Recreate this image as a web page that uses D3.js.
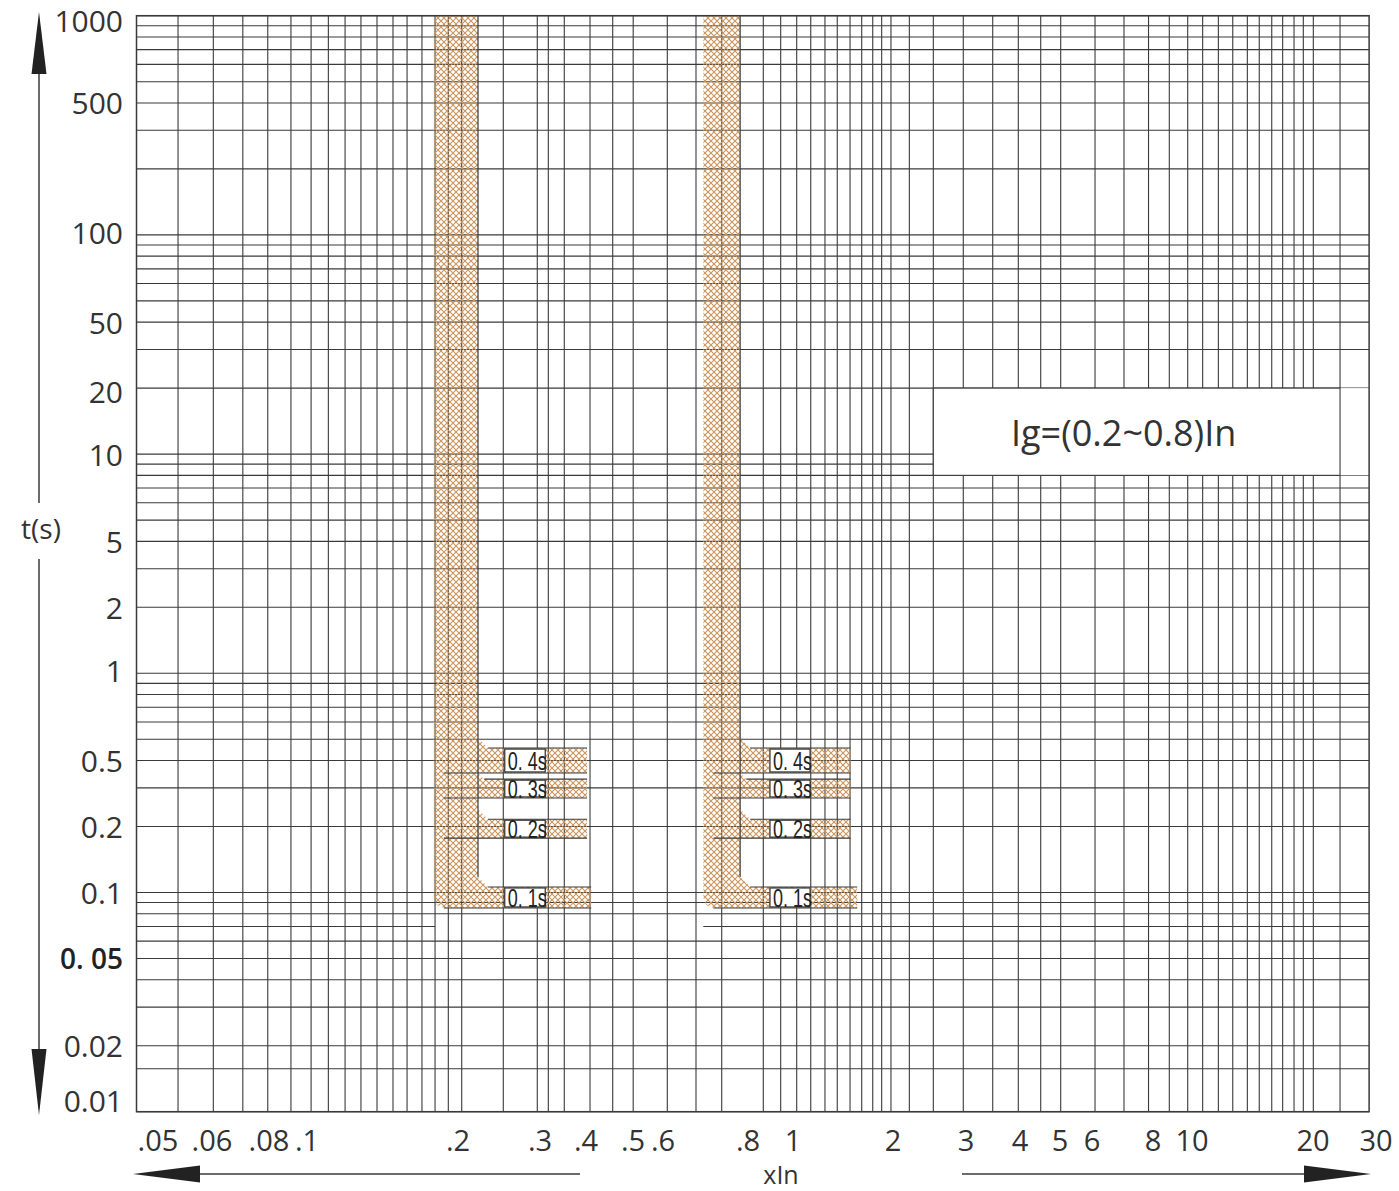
<!DOCTYPE html>
<html>
<head>
<meta charset="utf-8">
<script src="https://cdn.jsdelivr.net/npm/d3@7"></script>
<style>
  body { margin: 0; background: #fff; }
  svg { display: block; font-family: "Open Sans", "Noto Sans", sans-serif; }
</style>
</head>
<body>
<svg width="1399" height="1191"></svg>
<script>
// x axis: multiples of In, tick labels
const xTickValues = [0.05, 0.06, 0.08, 0.1, 0.2, 0.3, 0.4, 0.5, 0.6, 0.8, 1, 2, 3, 4, 5, 6, 8, 10, 20, 30]
const xTickLabels = [".05", ".06", ".08", ".1", ".2", ".3", ".4", ".5", ".6", ".8", "1", "2", "3", "4", "5", "6", "8", "10", "20", "30"]
const xExtent = [0.0465, 28.7]
// vertical rulings of the paper
const xGridValues = [0.0535, 0.0604, 0.0701, 0.0795, 0.091, 0.1019, 0.1103, 0.1191, 0.1281, 0.1379,
    0.1484, 0.1583, 0.1695, 0.18, 0.1913, 0.2037, 0.2502, 0.296, 0.316, 0.3492, 0.4077, 0.4541,
    0.5006, 0.6088, 0.6709, 0.7319, 0.863, 0.9408, 1.026, 1.131, 1.248, 1.359, 1.485, 1.61, 1.738,
    1.849, 1.972, 2.19, 2.502, 2.955, 3.459, 3.964, 4.49, 5.02, 6.086, 6.977, 7.833, 8.782, 9.757,
    10.63, 11.63, 12.63, 13.73, 14.7, 15.79, 16.81, 17.94, 18.92, 20.04, 23.8]

// y axis: time in seconds
const yExtent = [0.01, 1000]
const yTickLabels = ["1000", "500", "100", "50", "20", "10", "5", "2", "1", "0.5", "0.2", "0.1", "0. 05", "0.02", "0.01"]
const yTickAt = [946, 400, 103, 40, 19.4, 10, 4, 2, 1.035, 0.4, 0.2, 0.1, 0.05, 0.02, 0.0113]
const yExtraGrid = [0.0157]
// the 0.07 s ruling is interrupted under the low band
const yBrokenRule = 0.07
const yBrokenSpan = [0.18, 0.6877]

// tripping bands (Ig = 0.2 In and Ig = 0.8 In)
const bandLow = [0.179, 0.2208]
const bandHigh = [0.688, 0.779]
const armNames = ["0. 4s", "0. 3s", "0. 2s", "0. 1s"]
const armTop = [0.456, 0.329, 0.216, 0.106]
const armBottom = [0.351, 0.270, 0.177, 0.085]
const armEndLow = [0.402, 0.402, 0.402, 0.41]
const armEndHigh = [1.49, 1.49, 1.49, 1.56]
const boxLow = [0.252, 0.31]
const boxHigh = [0.892, 1.126]

// note box
const noteText = "Ig=(0.2~0.8)In"
const noteX = [2.502, 23.8]
const noteY = [20, 8]

const svg = d3.select("svg")
const ink = "#3a3a3a"
const hatchColor = "#c9955c"

// piecewise log scale: the paper is not a clean log grid
const x = d3.scaleLog()
    .domain(xTickValues)
    .range([158, 212, 269, 307, 458, 540, 586, 633, 663, 748, 793, 893, 966, 1020, 1060, 1092, 1153, 1192, 1313, 1376])
const y = d3.scaleLog().domain(yExtent).range([1111.7, 15.7])

const x0 = x(xExtent[0]), x1 = x(xExtent[1]),
    yTop = y(yExtent[1]), yBot = y(yExtent[0])

svg.append("defs").append("pattern")
    .attr("id", "hatch")
    .attr("patternUnits", "userSpaceOnUse")
    .attr("width", 6).attr("height", 6)
    .append("path")
    .attr("d", "M0,0L6,6M6,0L0,6")
    .attr("stroke", hatchColor)
    .attr("stroke-width", 1.1)

// grid: horizontal rulings as segments
const hSegs = []
y.ticks().concat(yExtraGrid).forEach(function (t) {
    if (Math.abs(t - yBrokenRule) < 1e-9) {
        hSegs.push([t, x0, x(yBrokenSpan[0])], [t, x(yBrokenSpan[1]), x1])
    } else {
        hSegs.push([t, x0, x1])
    }
})
svg.append("g")
    .selectAll("line")
    .data(hSegs)
    .enter()
    .append("line")
    .attr("x1", d => d[1]).attr("x2", d => d[2])
    .attr("y1", d => y(d[0])).attr("y2", d => y(d[0]))
    .attr("stroke", ink)
    .attr("stroke-width", 1.1)

svg.append("g")
    .selectAll("line")
    .data(xGridValues)
    .enter()
    .append("line")
    .attr("x1", d => x(d)).attr("x2", d => x(d))
    .attr("y1", yTop).attr("y2", yBot)
    .attr("stroke", ink)
    .attr("stroke-width", 1.1)

// blank columns under the time labels
;[boxLow, boxHigh].forEach(function (b) {
    svg.append("rect")
        .attr("x", x(b[0]) + 1)
        .attr("y", y(armTop[0]))
        .attr("width", x(b[1]) - x(b[0]) - 2)
        .attr("height", y(armBottom[3]) - y(armTop[0]))
        .attr("fill", "#fff")
})

function bandOutline(band, ends) {
    const xl = x(band[0]), xr = x(band[1]), n = armTop.length
    const yb = y(armBottom[n - 1])
    const pts = [[xl, yTop], [xl, yb - 10], [xl + 3, yb - 3], [xl + 10, yb]]
    for (let i = n - 1; i >= 0; i--) {
        const yt = y(armTop[i]), ybo = y(armBottom[i])
        const c = i == 0 ? 10 : Math.min(10, yt - y(armBottom[i - 1]))
        pts.push([xr, ybo], [x(ends[i]), ybo], [x(ends[i]), yt], [xr + c, yt], [xr, yt - c])
    }
    pts.push([xr, yTop])
    return d3.line()(pts) + "Z"
}

function drawBand(band, ends, box) {
    const g = svg.append("g")
    const xl = x(band[0]), xr = x(band[1]), n = armTop.length
    g.append("path")
        .attr("d", bandOutline(band, ends))
        .attr("fill", "url(#hatch)")

    // inner edge line of the vertical band
    g.append("line")
        .attr("x1", xr).attr("x2", xr)
        .attr("y1", yTop).attr("y2", y(armTop[n - 1]) - 10)
        .attr("stroke", ink).attr("stroke-width", 1.2)

    armNames.forEach(function (name, i) {
        const yt = y(armTop[i]), ybo = y(armBottom[i])
        const c = i == 0 ? 10 : Math.min(10, yt - y(armBottom[i - 1]))
        g.append("line")
            .attr("x1", xr + c).attr("x2", x(ends[i]))
            .attr("y1", yt).attr("y2", yt)
            .attr("stroke", ink).attr("stroke-width", 1.1)
        g.append("line")
            .attr("x1", xl + 10).attr("x2", x(ends[i]))
            .attr("y1", ybo).attr("y2", ybo)
            .attr("stroke", ink).attr("stroke-width", 1.1)
        g.append("rect")
            .attr("x", x(box[0]))
            .attr("y", yt + 1)
            .attr("width", x(box[1]) - x(box[0]))
            .attr("height", ybo - yt - 2)
            .attr("fill", "#fff")
            .attr("stroke", ink)
            .attr("stroke-width", 1.3)
        // narrow lettering: condense horizontally
        const tx = x(box[0]) + 3, ty = (yt + ybo) / 2 + 1
        g.append("text")
            .attr("transform", `translate(${tx},${ty}) scale(0.72,1)`)
            .attr("dominant-baseline", "central")
            .attr("font-family", "'Liberation Sans', Arial, sans-serif")
            .attr("font-size", 25)
            .attr("fill", "#222")
            .text(name)
    })
}

drawBand(bandLow, armEndLow, boxLow)
drawBand(bandHigh, armEndHigh, boxHigh)

// note box
svg.append("rect")
    .attr("x", x(noteX[0])).attr("y", y(noteY[0]))
    .attr("width", x1 - x(noteX[0])).attr("height", y(noteY[1]) - y(noteY[0]))
    .attr("fill", "#fff")
svg.append("rect")
    .attr("x", x(noteX[0])).attr("y", y(noteY[0]))
    .attr("width", x(noteX[1]) - x(noteX[0])).attr("height", y(noteY[1]) - y(noteY[0]))
    .attr("fill", "none")
    .attr("stroke", ink).attr("stroke-width", 1.1)
svg.append("text")
    .attr("x", (x(noteX[0]) + x(noteX[1])) / 2 - 13)
    .attr("y", (y(noteY[0]) + y(noteY[1])) / 2 + 1)
    .attr("text-anchor", "middle")
    .attr("dominant-baseline", "central")
    .attr("font-size", 36)
    .attr("fill", "#333")
    .text(noteText)

// frame
svg.append("rect")
    .attr("x", x0).attr("y", yTop)
    .attr("width", x1 - x0).attr("height", yBot - yTop)
    .attr("fill", "none")
    .attr("stroke", ink).attr("stroke-width", 1.5)

// tick labels
svg.append("g")
    .selectAll("text")
    .data(yTickLabels)
    .enter()
    .append("text")
    .attr("x", 123)
    .attr("y", (d, i) => y(yTickAt[i]))
    .attr("text-anchor", "end")
    .attr("dominant-baseline", "central")
    .attr("font-size", d => d == "0. 05" ? 28 : 30)
    .attr("font-weight", d => d == "0. 05" ? 600 : 400)
    .attr("fill", d => d == "0. 05" ? "#222" : "#333")
    .text(d => d)

svg.append("g")
    .selectAll("text")
    .data(xTickLabels)
    .enter()
    .append("text")
    .attr("x", (d, i) => x(xTickValues[i]))
    .attr("y", yBot + 28)
    .attr("text-anchor", "middle")
    .attr("dominant-baseline", "central")
    .attr("font-size", 29)
    .attr("fill", "#333")
    .text(d => d)

// axis arrows and titles
const arrow = "#222"
svg.append("line").attr("x1", 39).attr("x2", 39).attr("y1", 70).attr("y2", 503)
    .attr("stroke", ink).attr("stroke-width", 1.5)
svg.append("line").attr("x1", 39).attr("x2", 39).attr("y1", 559).attr("y2", 1050)
    .attr("stroke", ink).attr("stroke-width", 1.5)
svg.append("path").attr("d", "M39,12L31.5,74L46.5,74Z").attr("fill", arrow)
svg.append("path").attr("d", "M39,1115L31.5,1049L46.5,1049Z").attr("fill", arrow)
svg.append("text")
    .attr("x", 41).attr("y", 528)
    .attr("text-anchor", "middle").attr("dominant-baseline", "central")
    .attr("font-size", 28).attr("fill", "#333")
    .text("t(s)")

svg.append("line").attr("x1", 198).attr("x2", 580).attr("y1", 1174).attr("y2", 1174)
    .attr("stroke", ink).attr("stroke-width", 1.5)
svg.append("path").attr("d", "M133,1174L200,1165.5L200,1182.5Z").attr("fill", arrow)
svg.append("line").attr("x1", 962).attr("x2", 1306).attr("y1", 1174).attr("y2", 1174)
    .attr("stroke", ink).attr("stroke-width", 1.5)
svg.append("path").attr("d", "M1371,1174L1304,1165.5L1304,1182.5Z").attr("fill", arrow)
svg.append("text")
    .attr("x", 781).attr("y", 1174)
    .attr("text-anchor", "middle").attr("dominant-baseline", "central")
    .attr("font-size", 25).attr("fill", "#333")
    .text("xIn")
</script>
</body>
</html>
